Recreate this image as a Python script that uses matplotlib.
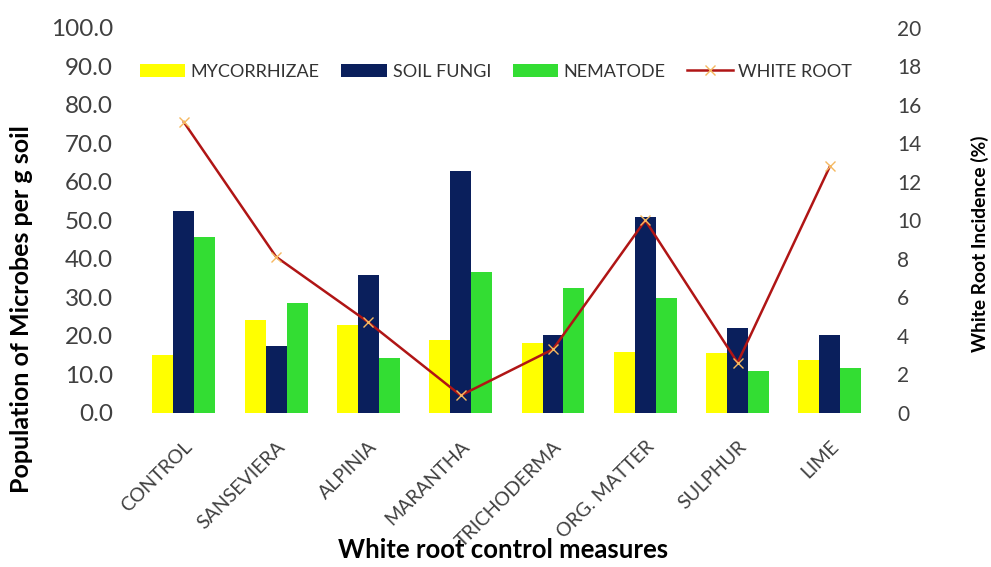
import numpy as np
import matplotlib
matplotlib.use("Agg")
import matplotlib.pyplot as plt

# дані
categories = ["CONTROL", "SANSEVIERA", "ALPINIA", "MARANTHA",
              "TRICHODERMA", "ORG. MATTER", "SULPHUR", "LIME"]
mycorrhizae = [15.1, 24.2, 22.7, 18.8, 18.0, 15.9, 15.6, 13.8]
soil_fungi = [52.3, 17.4, 35.7, 62.8, 20.1, 50.8, 21.9, 20.1]
nematode = [45.6, 28.6, 14.1, 36.5, 32.5, 29.7, 10.9, 11.7]
white_root = [15.1, 8.1, 4.7, 0.9, 3.3, 10.0, 2.6, 12.8]

left_ticks = np.arange(0, 101, 10)
right_ticks = np.arange(0, 21, 2)

plt.rcParams['font.family'] = ['Lato', 'DejaVu Sans']
tick_color = '#404040'

fig = plt.figure(figsize=(9.91, 5.67), dpi=100)
ax = fig.add_axes([0.138, 0.272, 0.746, 0.679])
ax2 = ax.twinx()

x = np.arange(len(categories))
w = 0.227
ax.bar(x - w, mycorrhizae, w, color='#FFFF00', label='MYCORRHIZAE')
ax.bar(x, soil_fungi, w, color='#0A1F5C', label='SOIL FUNGI')
ax.bar(x + w, nematode, w, color='#33DD33', label='NEMATODE')
ax2.plot(x, white_root, color='#B01515', lw=1.8, marker='x', ms=7,
         mec='#F5B860', mew=1.0, label='WHITE ROOT')

ax.set_xlim(-0.51, 7.5)
ax.set_ylim(0, 100)
ax2.set_ylim(0, 20)
ax.set_yticks(left_ticks)
ax.set_yticklabels([f"{v:.1f}" for v in left_ticks], fontsize=17.5, color=tick_color)
ax2.set_yticks(right_ticks)
ax2.set_yticklabels([str(v) for v in right_ticks], fontsize=15, color=tick_color)
ax.set_xticks(x)
ax.set_xticklabels(categories, rotation=45, ha='right', rotation_mode='anchor',
                   fontsize=14, color=tick_color)

for a in (ax, ax2):
    for s in a.spines.values():
        s.set_visible(False)
    a.tick_params(length=0)
ax.tick_params(axis='y', pad=17)
ax.tick_params(axis='x', pad=18)
ax2.tick_params(axis='y', pad=15)

ax.set_ylabel("Population of Microbes per g soil", fontsize=18, fontweight='bold')
ax.yaxis.set_label_coords(-0.141, 0.27)
ax.set_xlabel("White root control measures", fontsize=18.5, fontweight='bold')
ax.xaxis.set_label_coords(0.495, -0.325)
ax2.set_ylabel("White Root Incidence (%)", fontsize=13.8, fontweight='bold')
ax2.yaxis.set_label_coords(1.128, 0.44)

h1, l1 = ax.get_legend_handles_labels()
h2, l2 = ax2.get_legend_handles_labels()
leg = ax.legend(h1 + h2, l1 + l2, ncol=4, frameon=False,
                loc='center', bbox_to_anchor=(0.486, 0.886),
                fontsize=13, handlelength=2.5, handleheight=0.7,
                columnspacing=1.2, handletextpad=0.33)
for t in leg.get_texts():
    t.set_color('#333333')

fig.savefig("out.png", dpi=100)
